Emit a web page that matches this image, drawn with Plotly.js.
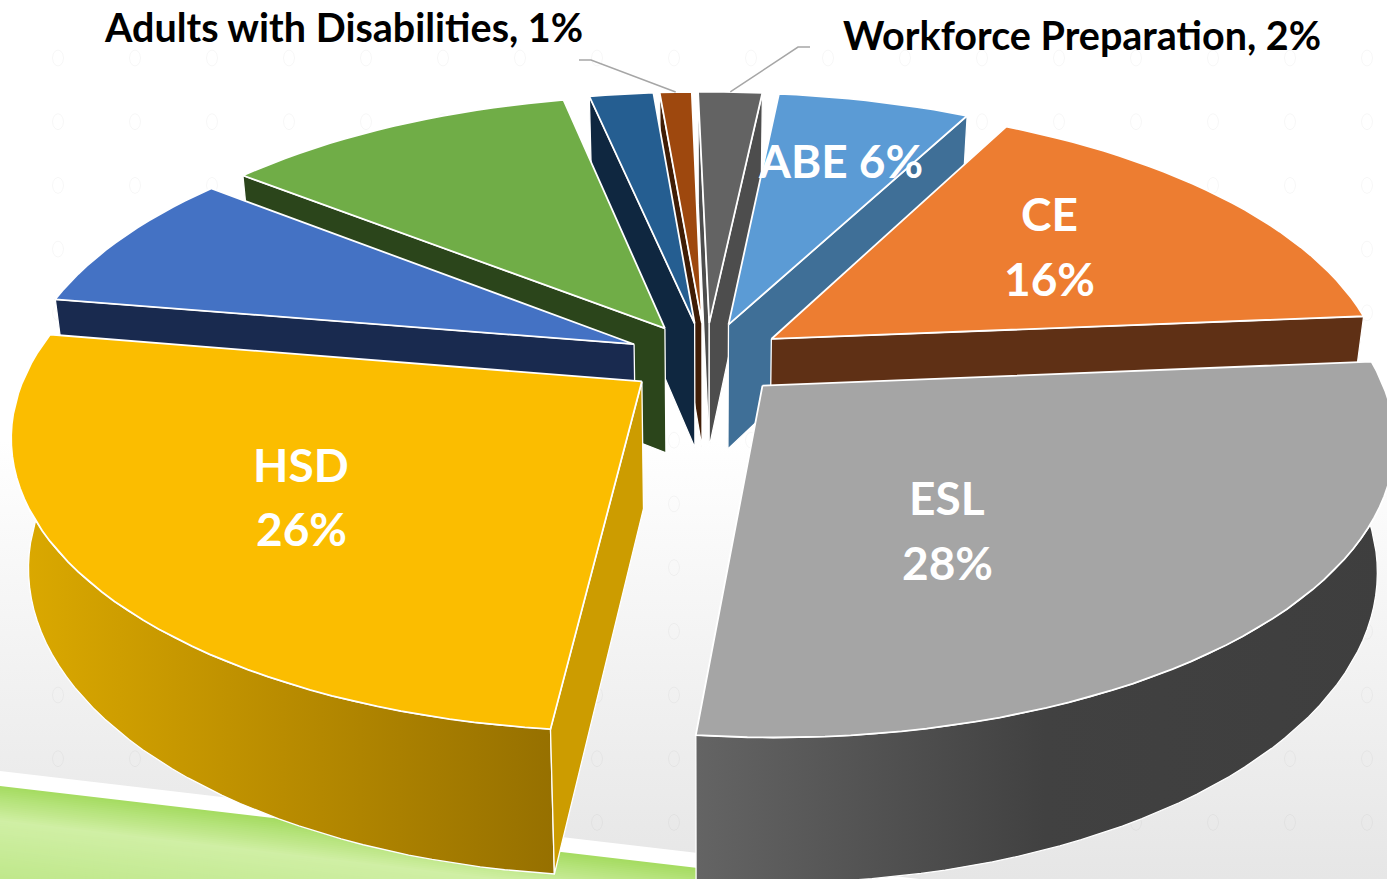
<!DOCTYPE html>
<html>
<head>
<meta charset="utf-8">
<script src="https://cdn.plot.ly/plotly-3.0.1.min.js"></script>
<style>html,body{margin:0;padding:0;background:#fff;overflow:hidden}#c{width:1387px;height:879px}</style>
</head>
<body>
<div id="c"></div>
<script>
// ---- chart data ----
const categories = ['ABE','CE','ESL','HSD','Adult Secondary','Short-term CTE','Older Adults','Adults with Disabilities','Workforce Preparation'];
const shares     = [6,16,28,26,8,11,2,1,2];
const topColors  = ['#5b9bd5','#ed7d31','#a5a5a5','#fbbd00','#4472c4','#70ad47','#255e91','#9e480e','#636363'];
const wallColors = ['#3f6f97','#5f3015','#606060','#cc9c00','#192a4f','#2b451b','#0f2740','#401d06','#4d4d4d'];
const outerLeft  = ['#3f6f97','#5f3015','#646464','#dcaa00','#192a4f','#2b451b','#0f2740','#401d06','#4d4d4d'];
const outerMid   = ['#3f6f97','#5f3015','#414141','#b98c00','#192a4f','#2b451b','#0f2740','#401d06','#4d4d4d'];
const outerRight = ['#3f6f97','#5f3015','#3e3e3e','#967000','#192a4f','#2b451b','#0f2740','#401d06','#4d4d4d'];

// ---- camera of the 3-D pie ----
const CX=706, CY=359, A=611, B=282, P=0.17, H=126, SHRINK=0.025, ROT=6, EXPLODE=0.13;

function project(X,Y,Z){
  const s=(1/(1-P*Y))*(1-SHRINK*Z);
  return [CX+A*X*s, CY+(B*Y)*s+H*Z/(1-P*Y)];
}
const rad=d=>d*Math.PI/180;
const dir=t=>[Math.sin(rad(t)),-Math.cos(rad(t))];

const total=shares.reduce((a,b)=>a+b,0);
let acc=0;
const slices=shares.map((v,i)=>{
  const t0=acc/total*360+ROT; acc+=v; const t1=acc/total*360+ROT;
  const m=dir((t0+t1)/2);
  return {i,t0,t1,ox:m[0]*EXPLODE,oy:m[1]*EXPLODE};
});

function poly(points,color,opts){
  opts=opts||{};
  const t={type:'scatter',mode:'lines',x:points.map(p=>p[0]),y:points.map(p=>p[1]),fill:'toself',
    fillcolor:color,line:{color:opts.line||'#ffffff',width:opts.width===undefined?1.3:opts.width},
    hoverinfo:'skip',showlegend:false};
  if(opts.grad){t.fillgradient=opts.grad;delete t.fillcolor;}
  return t;
}
function arc(s,Z,t0,t1){
  const n=Math.max(2,Math.ceil((t1-t0)/2)), out=[];
  for(let k=0;k<=n;k++){
    const d=dir(t0+(t1-t0)*k/n);
    out.push(project(s.ox+d[0],s.oy+d[1],Z));
  }
  return out;
}

const traces=[];
// page background
const W=1387,Hh=879;
traces.push(poly([[0,0],[W,0],[W,Hh],[0,Hh],[0,0]],'#fff',{width:0,grad:{type:'vertical',colorscale:[[0,'#e6e6e6'],[0.5,'#ffffff'],[1,'#ffffff']]}}));
// faint repeated marks on the slide background
const ovalX=[],ovalY=[];
for(let gx=58;gx<W;gx+=77){for(let gy=58;gy<835;gy+=63.7){
  for(let a=0;a<=360;a+=30){ovalX.push(gx+5.5*Math.sin(rad(a)));ovalY.push(gy-8*Math.cos(rad(a)));}
  ovalX.push(null);ovalY.push(null);
}}
traces.push({type:'scatter',mode:'lines',x:ovalX,y:ovalY,line:{color:'rgba(0,0,0,0.035)',width:1},hoverinfo:'skip',showlegend:false,connectgaps:false});
// white band and green swoosh
const slope=0.1175;
const edge=(x,o)=>[x,786+o+slope*x];
traces.push(poly([[0,771],[W,771+slope*W],[W,Hh+200],[0,Hh+200],[0,771]],'#ffffff',{width:0}));
const lerp=(a,b,f)=>Math.round(a+(b-a)*f);
const swooshKeys=[[0,[166,220,98]],[34,[208,239,165]],[90,[192,232,140]]];
for(let o=0;o<=90;o+=2){
  let k=o<34?0:1; const a=swooshKeys[k],b=swooshKeys[k+1],f=(o-a[0])/(b[0]-a[0]);
  const col='rgb('+lerp(a[1][0],b[1][0],f)+','+lerp(a[1][1],b[1][1],f)+','+lerp(a[1][2],b[1][2],f)+')';
  traces.push(poly([edge(0,o),edge(W,o),[W,Hh+300],[0,Hh+300],edge(0,o)],col,{width:0}));
}
// slices, painted back to front
const order=slices.slice().sort((a,b)=>a.oy-b.oy);
order.forEach(s=>{
  const i=s.i;
  const d0=dir(s.t0), d1=dir(s.t1);
  const a0=project(s.ox,s.oy,0), a1=project(s.ox,s.oy,1);
  const wall=(d)=>[a0,project(s.ox+d[0],s.oy+d[1],0),project(s.ox+d[0],s.oy+d[1],1),a1,a0];
  // outer wall, the part that faces the viewer
  let lo=s.t0, hi=s.t1, vis=[];
  const n=Math.max(2,Math.ceil((hi-lo)/2));
  for(let k=0;k<=n;k++){const t=lo+(hi-lo)*k/n; if(-Math.cos(rad(t))>-0.2) vis.push(t);}
  if(vis.length>1){
    const tA=vis[0],tB=vis[vis.length-1];
    const top=arc(s,0,tA,tB), bot=arc(s,1,tA,tB).reverse();
    const pts=top.concat(bot,[top[0]]);
    traces.push(poly(pts,outerLeft[i],{grad:{type:'horizontal',colorscale:[[0,outerLeft[i]],[0.5,outerMid[i]],[1,outerRight[i]]]}}));
  }
  // radial walls: only those that face the viewer
  if(dir(s.t0-90)[1]>0) traces.push(poly(wall(d0),wallColors[i]));
  if(dir(s.t1+90)[1]>0) traces.push(poly(wall(d1),wallColors[i]));
  // top face
  const a=project(s.ox,s.oy,0);
  traces.push(poly([a].concat(arc(s,0,s.t0,s.t1),[a]),topColors[i],{width:1.8}));
});

// labels
const FONT='Lato, "Open Sans", sans-serif';
const ann=[];
function label(text,x,y,size,color){ann.push({text,x,y,xref:'x',yref:'y',xanchor:'center',yanchor:'middle',showarrow:false,font:{family:FONT,size,color,weight:700}});}
const pct=i=>shares[i]+'%';
label(categories[0]+' '+pct(0),840,160,46,'#ffffff');
label(categories[1],1049,213,46,'#ffffff'); label(pct(1),1049,278,46,'#ffffff');
label(categories[2],947,497,46,'#ffffff'); label(pct(2),947,562,46,'#ffffff');
label(categories[3],301,464,46,'#ffffff'); label(pct(3),301,528,46,'#ffffff');
label(categories[7]+', '+pct(7),343,26,39.5,'#000000');
label(categories[8]+', '+pct(8),1082,34,39.5,'#000000');

// leader lines from the outer labels to their slices
function leader(i,elbow,end){
  const s=slices[i], d=dir((s.t0+s.t1)/2), p=project(s.ox+d[0],s.oy+d[1],0);
  traces.push({type:'scatter',mode:'lines',x:[end[0],elbow[0],p[0]],y:[end[1],elbow[1],p[1]],line:{color:'#a6a6a6',width:1.5},hoverinfo:'skip',showlegend:false});
}
leader(7,[591,60],[579,60]);
leader(8,[798,47],[810,47]);

Plotly.newPlot('c',traces,{
  width:W,height:Hh,margin:{l:0,r:0,t:0,b:0},paper_bgcolor:'#ffffff',plot_bgcolor:'rgba(0,0,0,0)',showlegend:false,
  xaxis:{range:[0,W],visible:false,fixedrange:true},
  yaxis:{range:[Hh,0],visible:false,fixedrange:true},
  annotations:ann
},{displayModeBar:false,staticPlot:true});
</script>
</body>
</html>
